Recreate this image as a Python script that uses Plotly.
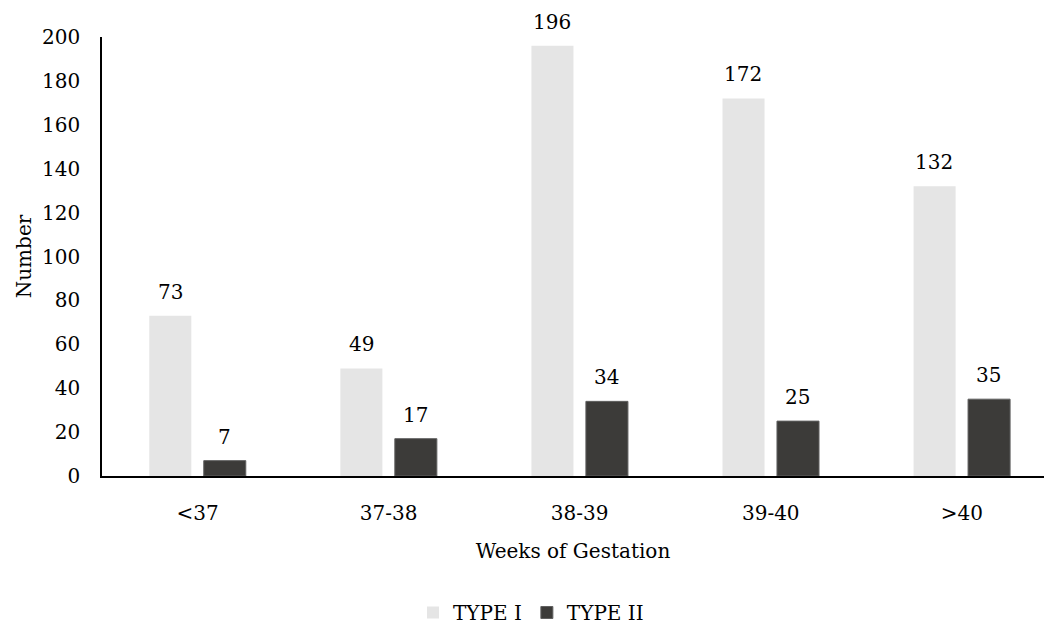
import plotly.graph_objects as go

categories = ["<37", "37-38", "38-39", "39-40", ">40"]
type1 = [73, 49, 196, 172, 132]
type2 = [7, 17, 34, 25, 35]
y_ticks = [0, 20, 40, 60, 80, 100, 120, 140, 160, 180, 200]

FONT = "DejaVu Serif"
FS = 20
C1 = "#E5E5E5"
C2 = "#3C3B39"

fig = go.Figure()
fig.add_trace(go.Bar(x=categories, y=type1, name="TYPE I",
                     marker=dict(color=C1, line=dict(width=0))))
fig.add_trace(go.Bar(x=categories, y=type2, name="TYPE II",
                     marker=dict(color=C2, line=dict(width=1, color="#606060"))))

for cat, v in zip(categories, type1):
    fig.add_annotation(x=cat, y=v, xref="x", yref="y", text=str(v), showarrow=False,
                       xshift=-27.5, yshift=10, yanchor="bottom",
                       font=dict(family=FONT, size=FS, color="#000"))
for cat, v in zip(categories, type2):
    fig.add_annotation(x=cat, y=v, xref="x", yref="y", text=str(v), showarrow=False,
                       xshift=27, yshift=10, yanchor="bottom",
                       font=dict(family=FONT, size=FS, color="#000"))

fig.update_layout(
    width=1044, height=626,
    margin=dict(l=102, r=0, t=37, b=150, autoexpand=False),
    paper_bgcolor="white", plot_bgcolor="white",
    barmode="group", bargap=0.43, bargroupgap=0.228,
    font=dict(family=FONT, size=FS, color="#000"),
    showlegend=True,
    legend=dict(orientation="h", xref="paper", yref="paper",
                x=(531 - 102) / 942, y=-156 / 439, xanchor="center", yanchor="bottom",
                font=dict(family=FONT, size=FS), itemwidth=30, tracegroupgap=0,
                borderwidth=0, traceorder="normal", bgcolor="rgba(0,0,0,0)"),
    xaxis=dict(range=[-0.5, 4.43], showline=True, linecolor="#000", linewidth=1.5,
               ticks="", showgrid=False, zeroline=False, automargin=False,
               ticklabelstandoff=18,
               title=dict(text="Weeks of Gestation", font=dict(family=FONT, size=FS), standoff=20),
               tickfont=dict(family=FONT, size=FS)),
    yaxis=dict(range=[0, 200], tickvals=y_ticks, showline=True, linecolor="#000", linewidth=1.5,
               ticks="", showgrid=False, zeroline=False, ticklabelstandoff=16, automargin=False,
               title=dict(text="Number", font=dict(family=FONT, size=FS), standoff=5),
               tickfont=dict(family=FONT, size=FS)),
)

fig.write_html("out.html", config={"displayModeBar": False},
               post_script="document.body.style.margin='0';document.body.style.overflow='hidden';")
